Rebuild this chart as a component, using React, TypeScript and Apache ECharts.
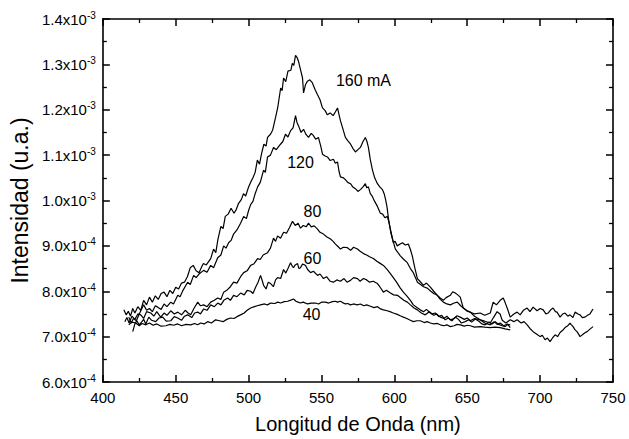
import React, { useEffect, useRef } from "react";
import * as echarts from "echarts";

// Values in units of 1e-4 (u.a.), x in nm
const s160: number[][] = [[414.4,7.59],[416,7.48],[417.5,7.56],[419,7.45],[420.5,7.62],[422,7.52],[424,7.66],[426,7.58],[428,7.80],[430,7.70],[432,7.87],[434,7.76],[436,7.90],[438,7.82],[440,7.95],[442,7.98],[444,7.88],[446,8.02],[448,7.95],[450,8.09],[452,8.05],[454,8.18],[456,8.20],[458,8.32],[460,8.52],[462,8.57],[464,8.45],[466,8.41],[468,8.55],[469,8.61],[471,8.58],[474,8.72],[476,8.93],[477.5,8.85],[479,9.15],[481,9.43],[482.5,9.38],[484,9.65],[486,9.70],[488,9.83],[490,9.72],[491.5,9.80],[493,9.93],[495,10.02],[496.5,10.15],[498,10.10],[500,10.30],[501.5,10.41],[503,10.50],[504.5,10.62],[506,10.89],[507.5,10.80],[509,11.05],[510.5,11.24],[512,11.20],[513,11.39],[515,11.46],[516.5,11.55],[518.5,11.83],[520,12.05],[522,12.48],[523,12.42],[524,12.70],[525.5,12.62],[527,12.85],[529,12.87],[530,13.02],[531,12.98],[532.2,13.20],[533.3,13.15],[534.2,13.07],[535.5,12.90],[537,12.70],[537.7,12.37],[539,12.55],[540.4,12.63],[542,12.66],[543.8,12.59],[545.5,12.45],[547.3,12.33],[549,12.22],[550.7,12.04],[552.5,11.98],[554,11.89],[556,11.93],[558,11.87],[559.5,11.95],[561,12.04],[562,11.90],[563,11.76],[564.5,11.60],[566.4,11.39],[568,11.32],[570,11.24],[571.5,11.15],[573.3,11.07],[575,11.12],[576.7,11.17],[578.5,11.30],[580.1,11.39],[581.2,11.30],[582.2,11.17],[583.5,10.90],[585,10.67],[586.5,10.50],[588.4,10.37],[590,10.30],[591.8,10.24],[593,10.15],[594,10.02],[595,9.85],[596,9.59],[597.5,9.30],[599.3,9.07],[600.5,9.10],[602,9.00],[604,9.04],[605.5,9.07],[607.5,9.02],[609.6,9.04],[611,8.92],[612.3,8.78],[614,8.52],[615.8,8.28],[617.5,8.22],[620,8.13],[622,8.18],[624.7,8.09],[627,8.00],[629.5,7.91],[631.5,7.85],[633.6,7.80],[635.5,7.86],[638.4,7.91],[640,7.99],[641.8,7.96],[643.5,7.92],[645.2,7.87],[647.3,7.63],[649.5,7.58],[652,7.54],[655,7.50],[658.9,7.52],[662,7.47],[665.8,7.52],[667.8,7.76],[670,7.70],[672.6,7.80],[674.7,7.85],[676,7.75],[677.4,7.63],[679.5,7.43],[682,7.50],[684.2,7.54],[686.3,7.48],[688.5,7.58],[691.1,7.63],[693,7.55],[695.2,7.65],[697.9,7.57],[700,7.62],[702.1,7.59],[704,7.50],[705.5,7.52],[707.5,7.60],[708.9,7.63],[710.5,7.55],[711.6,7.54],[713.7,7.43],[715.5,7.50],[717.1,7.52],[719,7.45],[720.5,7.48],[722.5,7.42],[724,7.54],[726,7.50],[727.4,7.48],[729,7.42],[730.8,7.43],[732.5,7.47],[734.2,7.50],[736.3,7.61]];

const s120: number[][] = [[417.8,7.43],[419.5,7.30],[421,7.40],[423,7.35],[425,7.50],[428,7.70],[430,7.58],[432,7.62],[434,7.55],[436,7.68],[437.7,7.65],[440,7.60],[442,7.72],[444,7.66],[446.6,7.76],[448.5,7.72],[451.4,7.91],[453,7.88],[455,8.02],[458.2,8.20],[460,8.15],[462.3,8.35],[464,8.30],[466,8.38],[469.2,8.46],[471.5,8.42],[474,8.57],[476,8.52],[478.8,8.74],[481,8.80],[482.9,9.00],[484.5,8.95],[486.3,9.07],[488,9.12],[489.7,9.26],[492,9.35],[494.5,9.50],[496.6,9.65],[498.5,9.60],[500,9.78],[501.4,9.91],[503,9.98],[504.5,10.15],[506.2,10.30],[508,10.40],[510.3,10.67],[511.5,10.62],[513,10.96],[515,11.00],[517.1,11.17],[519,11.12],[521.9,11.24],[523.5,11.30],[525.3,11.46],[527,11.40],[528.8,11.54],[530.5,11.60],[532.2,11.87],[533.2,11.72],[534.2,11.65],[536,11.50],[537.7,11.57],[539.5,11.45],[541.1,11.39],[543,11.48],[544.5,11.43],[546,11.35],[547.9,11.39],[549.5,11.20],[550.7,11.02],[552.5,10.98],[554.1,10.96],[556,10.88],[558.2,10.91],[559.5,10.82],[561,10.85],[562,10.65],[563,10.52],[565,10.50],[566.4,10.46],[568,10.40],[569.9,10.37],[571.5,10.30],[573.3,10.26],[575,10.20],[576.7,10.24],[578.5,10.30],[580.1,10.37],[581,10.28],[582.2,10.30],[583.5,10.15],[584.9,10.09],[586.5,9.98],[588.4,9.87],[590.4,9.72],[592,9.70],[593.5,9.62],[595.2,9.65],[596.3,9.52],[597.3,9.37],[599,9.12],[600.7,8.93],[602.5,8.85],[604.1,8.78],[606.5,8.70],[608.9,8.63],[611,8.50],[613,8.41],[614.5,8.30],[615.8,8.20],[618,8.15],[620,8.10],[622.6,8.07],[625,8.00],[627,7.95],[629.5,7.91],[631.5,7.82],[633.6,7.76],[636,7.72],[638.4,7.70],[641,7.74],[643.2,7.76],[645.5,7.68],[647.3,7.63],[650,7.56],[652.1,7.54],[655,7.45],[658.9,7.37],[662,7.34],[665.8,7.30],[668,7.42],[670.5,7.55],[672.5,7.50],[674,7.36],[676.5,7.30],[679.5,7.37],[682,7.33],[684.2,7.37],[687,7.30],[689,7.33],[691.1,7.26],[693,7.18],[695.2,7.11],[697.5,7.06],[700,7.00],[701.5,7.03],[703.4,6.93],[705,6.97],[706.8,6.89],[708.5,6.97],[710.3,7.04],[712,7.00],[713.7,7.09],[715.5,7.14],[717.1,7.20],[719,7.24],[720.5,7.30],[721.5,7.26],[722.6,7.22],[724,7.15],[725.3,7.11],[726.5,7.05],[727.4,7.00],[729,7.04],[730.5,7.08],[732.2,7.11],[734,7.16],[736.3,7.22]];

const s80: number[][] = [[415.1,7.33],[416.5,7.42],[418,7.30],[420,7.45],[422,7.38],[424,7.50],[426,7.48],[428,7.40],[430,7.55],[432.9,7.52],[435,7.45],[437,7.55],[439.7,7.43],[442,7.52],[444,7.47],[446.6,7.57],[449,7.50],[451.4,7.54],[454,7.48],[456.5,7.58],[458.5,7.52],[460.3,7.48],[462.5,7.62],[465.1,7.76],[467,7.68],[469.2,7.70],[471.5,7.66],[474,7.76],[476.5,7.80],[478.8,7.85],[481,7.82],[482.9,7.98],[485,8.02],[487.5,8.10],[489.7,8.20],[492,8.18],[494.5,8.32],[496.6,8.41],[499,8.45],[501.4,8.57],[503.5,8.60],[506.2,8.72],[508,8.70],[510,8.80],[513,8.85],[515,8.95],[517.1,9.17],[518.5,9.10],[519.9,9.22],[521.9,9.17],[524,9.30],[526,9.28],[528,9.40],[530.1,9.54],[532,9.45],[534,9.50],[535.6,9.39],[537.5,9.45],[539.5,9.42],[541.1,9.50],[543,9.42],[545,9.44],[547.3,9.37],[549,9.30],[551.4,9.26],[553.5,9.20],[556.2,9.15],[558,9.10],[559.6,9.04],[561.5,8.98],[563,8.93],[565,8.97],[567.8,8.96],[570,8.90],[572,8.97],[574.7,8.93],[576.5,8.88],[578.8,8.83],[581,8.80],[583,8.76],[585.6,8.72],[588,8.66],[590,8.62],[592.5,8.57],[595,8.48],[597,8.40],[599.3,8.30],[601.5,8.20],[604.1,8.07],[606.2,7.98],[608.5,7.90],[611,7.80],[613,7.70],[615.5,7.64],[617.8,7.59],[620,7.55],[622,7.60],[624.7,7.52],[627,7.47],[629,7.50],[631.5,7.43],[634,7.40],[636,7.45],[638.4,7.37],[641,7.40],[643,7.46],[645.2,7.43],[648,7.38],[650,7.41],[652.1,7.35],[655,7.40],[658.9,7.37],[662,7.30],[665.8,7.26],[668.5,7.33],[670.5,7.27],[672.6,7.30],[675,7.24],[677.5,7.28],[679.5,7.20]];

const s60: number[][] = [[420.5,7.11],[422,7.28],[423.3,7.35],[425,7.26],[426,7.30],[428,7.38],[429.5,7.28],[431.5,7.43],[433.5,7.36],[436.3,7.33],[438.5,7.41],[441.1,7.43],[443.5,7.34],[446.6,7.35],[449,7.44],[451.4,7.41],[454,7.36],[456,7.45],[458.2,7.48],[461,7.42],[463,7.52],[465.1,7.54],[467,7.50],[469.2,7.61],[471.5,7.58],[474,7.70],[476.5,7.66],[478.8,7.74],[481,7.70],[483,7.80],[485.6,7.85],[487.5,7.80],[489.7,7.91],[492,7.88],[494.5,7.96],[497,7.92],[499,8.02],[501.4,8.00],[503,7.95],[504.8,8.09],[506.5,8.20],[508.2,8.35],[509.5,8.22],[510.3,8.13],[512,8.05],[513.5,8.20],[515.1,8.17],[517,8.10],[518.5,8.25],[519.9,8.30],[522,8.28],[524,8.48],[525.5,8.40],[527,8.50],[528.8,8.63],[530,8.55],[530.8,8.52],[532,8.58],[533.6,8.61],[534.5,8.50],[535.6,8.52],[537,8.60],[539,8.57],[540.5,8.48],[542.5,8.41],[544.5,8.44],[547.3,8.35],[549,8.38],[551.4,8.28],[553.5,8.32],[556,8.22],[558.2,8.20],[560.5,8.25],[563,8.22],[565.5,8.28],[567.5,8.20],[569.9,8.24],[572,8.30],[574.7,8.28],[576.5,8.22],[578.8,8.28],[581,8.25],[583,8.20],[585.5,8.22],[588.4,8.17],[590,8.10],[592.5,7.98],[594.5,8.02],[597.3,7.96],[599.5,7.92],[602.1,7.91],[604.5,7.85],[606.5,7.80],[608.9,7.76],[611,7.70],[613.5,7.63],[615.8,7.59],[618.5,7.52],[621.2,7.48],[624,7.55],[626,7.50],[628.1,7.52],[630.5,7.44],[632.5,7.47],[634.9,7.37],[637,7.41],[639.5,7.35],[641.8,7.43],[644,7.38],[646,7.30],[648.6,7.33],[651,7.37],[653,7.32],[655.5,7.39],[658,7.34],[660,7.28],[662.3,7.26],[665,7.32],[667,7.28],[669.2,7.33],[671.5,7.27],[674,7.24],[676,7.22],[678,7.27],[679.5,7.26]];

const s40: number[][] = [[417.8,7.26],[420,7.32],[422.6,7.30],[425,7.24],[427,7.29],[429.5,7.26],[432,7.30],[434.5,7.25],[437,7.28],[440,7.23],[443.2,7.24],[446,7.27],[448.5,7.25],[451.4,7.28],[454,7.24],[457,7.27],[460.3,7.26],[463,7.29],[465,7.26],[467.1,7.30],[469.5,7.28],[471.9,7.33],[474.5,7.30],[477.4,7.37],[480,7.35],[482.5,7.33],[485,7.38],[487.7,7.41],[490,7.40],[492,7.44],[494.5,7.48],[497,7.52],[499,7.58],[501.4,7.63],[504,7.66],[506,7.68],[508.2,7.70],[511,7.72],[513,7.70],[515.1,7.74],[518,7.73],[520,7.76],[522,7.74],[524.5,7.77],[526.7,7.78],[528.5,7.80],[530.8,7.83],[532.5,7.78],[534,7.76],[535.6,7.74],[537.5,7.76],[540.4,7.72],[543,7.74],[545.9,7.74],[548,7.72],[550,7.76],[552.7,7.76],[555,7.74],[557.5,7.77],[559.6,7.78],[561,7.76],[563,7.78],[564.5,7.75],[566.4,7.72],[568,7.73],[569.9,7.70],[572,7.72],[574.5,7.70],[576.7,7.72],[579,7.68],[581,7.70],[583.6,7.67],[586,7.64],[588.5,7.66],[590.5,7.61],[592.5,7.59],[595,7.57],[597,7.55],[599.3,7.52],[602,7.49],[604,7.46],[606.2,7.43],[608.5,7.40],[611,7.36],[613,7.33],[615.5,7.35],[617.8,7.35],[620.5,7.31],[622.5,7.33],[624.7,7.30],[627,7.28],[629.5,7.29],[631.5,7.26],[634,7.24],[636,7.26],[638.4,7.22],[641,7.24],[643,7.27],[645.2,7.26],[648,7.23],[650,7.25],[652.1,7.24],[655,7.21],[658.9,7.22],[662,7.21],[665.8,7.20],[669,7.21],[672.6,7.20],[676,7.17],[679.5,7.15]];

const labelTexts = ["160 mA", "120", "80", "60", "40"];
const labelX = [578.8, 535.6, 543.8, 543.8, 543.2];
const labelY = [12.65, 10.83, 9.76, 8.72, 7.48];

const xTitle = "Longitud de Onda (nm)";
const yTitle = "Intensidad (u.a.)";

const FONT = "'Liberation Sans', Arial, Helvetica, sans-serif";

export default function App() {
  const ref = useRef<HTMLDivElement>(null);
  useEffect(() => {
    const chart = echarts.init(ref.current!, null, { renderer: "svg" });
    const axisLine = { show: true, onZero: false, lineStyle: { color: "#000", width: 1.6 } };
    const tick = { show: true, inside: true, length: 7, lineStyle: { color: "#000", width: 1.5 } };
    const minor = { show: true, splitNumber: 2, length: 4, lineStyle: { color: "#000", width: 1.3 } };
    const yFmt = (v: number) => {
      const big = v >= 9.999;
      const m = big ? v / 10 : v;
      return `{m|${m.toFixed(1)}x10}{e|${big ? "-3" : "-4"}}`;
    };
    const mk = (d: number[][], name: string) => ({
      type: "line",
      name,
      data: d,
      showSymbol: false,
      symbol: "none",
      lineStyle: { color: "#000", width: 1.2 },
      silent: true,
    });
    chart.setOption({
      animation: false,
      backgroundColor: "#fff",
      textStyle: { fontFamily: FONT },
      grid: { left: 102, right: 16, top: 19, bottom: 50, containLabel: false },
      xAxis: [
        {
          type: "value", min: 400, max: 750, interval: 50, position: "bottom",
          axisLine, axisTick: tick, minorTick: minor, splitLine: { show: false },
          axisLabel: { color: "#000", fontSize: 15, margin: 8, fontFamily: FONT },
          name: xTitle, nameLocation: "middle", nameGap: 32,
          nameTextStyle: { color: "#000", fontSize: 20, fontFamily: FONT },
        },
        {
          type: "value", min: 400, max: 750, interval: 50, position: "top",
          axisLine, axisTick: tick, minorTick: minor, splitLine: { show: false },
          axisLabel: { show: false },
        },
      ],
      yAxis: [
        {
          type: "value", min: 6, max: 14, interval: 1, position: "left",
          axisLine, axisTick: tick, minorTick: minor, splitLine: { show: false },
          axisLabel: {
            formatter: yFmt, margin: 7, color: "#000",
            rich: {
              m: { fontSize: 15, lineHeight: 18, color: "#000", fontFamily: FONT },
              e: { fontSize: 10, lineHeight: 11, verticalAlign: "top", color: "#000", fontFamily: FONT },
            },
          },
          name: yTitle, nameLocation: "middle", nameGap: 70, nameRotate: 90,
          nameTextStyle: { color: "#000", fontSize: 23, fontFamily: FONT },
        },
        {
          type: "value", min: 6, max: 14, interval: 1, position: "right",
          axisLine, axisTick: tick, minorTick: minor, splitLine: { show: false },
          axisLabel: { show: false },
        },
      ],
      series: [
        mk(s160, "160 mA"),
        mk(s120, "120"),
        mk(s80, "80"),
        mk(s60, "60"),
        mk(s40, "40"),
        {
          type: "scatter",
          symbolSize: 1,
          itemStyle: { color: "rgba(0,0,0,0)" },
          silent: true,
          z: 5,
          data: labelTexts.map((t, i) => ({ name: t, value: [labelX[i], labelY[i]] })),
          label: {
            show: true, position: "inside", formatter: "{b}", opacity: 1,
            color: "#000", fontSize: 16, fontFamily: FONT,
          },
        },
      ],
    });
    return () => chart.dispose();
  }, []);
  return (
    <div
      ref={ref}
      style={{ position: "fixed", left: 0, top: 0, width: 629, height: 439, background: "#fff" }}
    />
  );
}
